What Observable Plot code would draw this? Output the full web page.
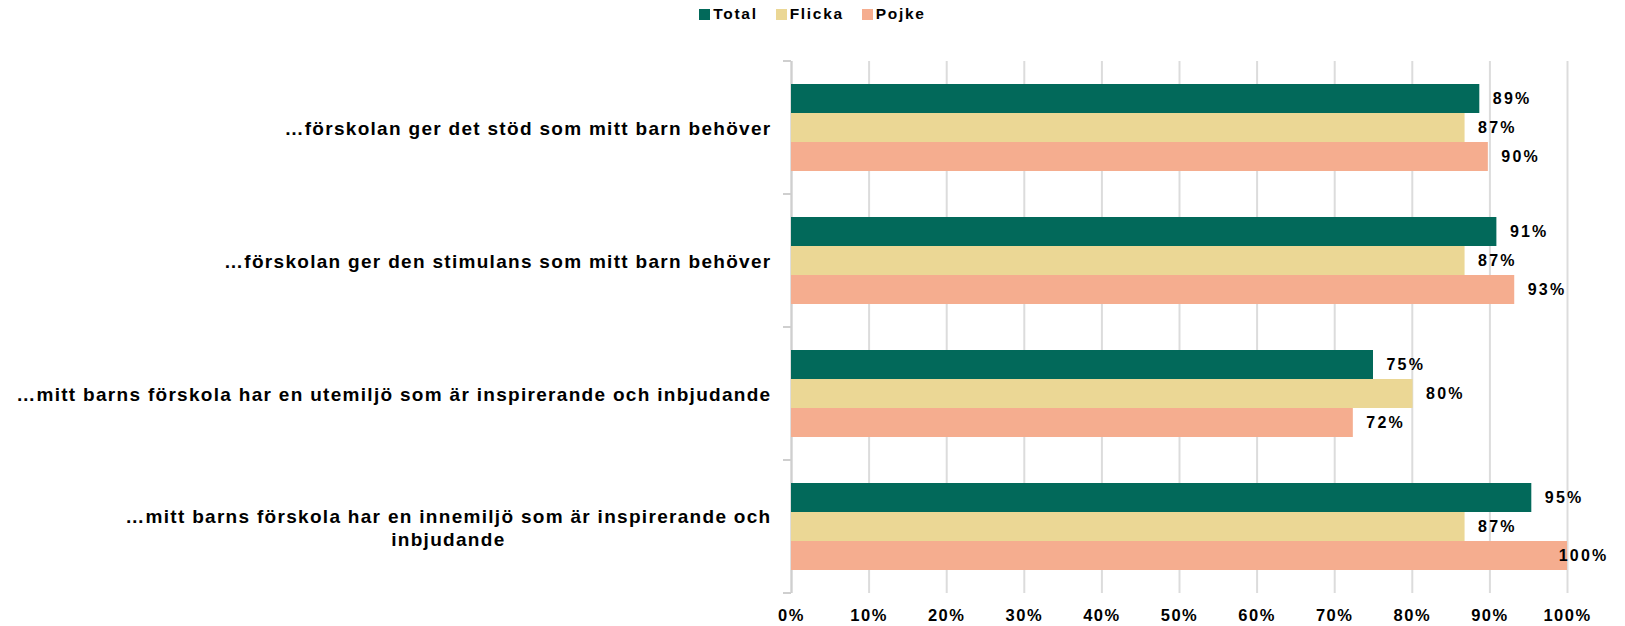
<!DOCTYPE html>
<html><head><meta charset="utf-8">
<script src="https://cdn.jsdelivr.net/npm/d3@7"></script>
<script src="https://cdn.jsdelivr.net/npm/@observablehq/plot@0.6"></script>
<style>
body{margin:0;background:#fff;font-family:"Liberation Sans",Arial,sans-serif;}
#legend{height:28px;display:flex;justify-content:center;align-items:center;gap:18px;font-weight:bold;font-size:15.5px;letter-spacing:1.7px;color:#000;}
#legend .item{display:flex;align-items:center;}
#legend .sw{width:11px;height:11px;margin-right:3px;display:inline-block;}
#chart svg text{letter-spacing:2.2px;}
#chart g[aria-label="x-axis tick label"] text{letter-spacing:1.5px;}
#chart g[aria-label="fy-axis tick label"] text{letter-spacing:1.3px;}
</style></head><body>
<div id="legend"></div><div id="chart"></div>
<script>
const questions = [
  "…förskolan ger det stöd som mitt barn behöver",
  "…förskolan ger den stimulans som mitt barn behöver",
  "…mitt barns förskola har en utemiljö som är inspirerande och inbjudande",
  "…mitt barns förskola har en innemiljö som är inspirerande och inbjudande"
];
const series = ["Total", "Flicka", "Pojke"];
const totalValues = [88.7, 90.9, 75.0, 95.4];
const flickaValues = [86.8, 86.8, 80.1, 86.8];
const pojkeValues = [89.8, 93.2, 72.4, 100];
const colors = ["#02695a", "#ebd795", "#f5ad8f"];
const xTicks = [0, 10, 20, 30, 40, 50, 60, 70, 80, 90, 100];

const valuesBySeries = {Total: totalValues, Flicka: flickaValues, Pojke: pojkeValues};
const data = questions.flatMap((q, i) => series.map(s => ({question: q, series: s, value: valuesBySeries[s][i]})));

// legend
const legend = d3.select("#legend");
series.forEach((s, i) => {
  const it = legend.append("div").attr("class", "item");
  it.append("span").attr("class", "sw").style("background", colors[i]);
  it.append("span").text(s);
});

function wrap(t, maxChars = 71) {
  const words = t.split(" ");
  const lines = [];
  let line = "";
  for (const w of words) {
    if (line && (line + " " + w).length > maxChars) { lines.push(line); line = w; }
    else line = line ? line + " " + w : w;
  }
  lines.push(line);
  return lines.join("\n");
}

const plot = Plot.plot({
  width: 1625, height: 598,
  marginLeft: 791, marginRight: 58, marginTop: 32, marginBottom: 33,
  style: {fontFamily: "'Liberation Sans', Arial, sans-serif", color: "#000"},
  x: {domain: [0, 100], label: null},
  y: {domain: series, paddingInner: 0, paddingOuter: 0.79, axis: null, label: null},
  fy: {domain: questions, padding: 0, label: null},
  color: {domain: series, range: colors},
  marks: [
    Plot.gridX(xTicks, {stroke: "#dcdcdc", strokeOpacity: 1, strokeWidth: 2}),
    Plot.ruleX([0], {stroke: "#cfcfcf", strokeWidth: 2}),
    Plot.barX(data, {fy: "question", y: "series", x: "value", fill: "series"}),
    Plot.text(data, {fy: "question", y: "series", x: d => Math.min(d.value, 97.2), text: d => Math.round(d.value) + "%",
      textAnchor: "start", dx: 13, fontSize: 16, fontWeight: "bold", fill: "#000"}),
    Plot.axisX(xTicks, {anchor: "bottom", tickSize: 0, tickPadding: 16, tickFormat: d => d + "%", fontSize: 16.5, fontWeight: "bold", fill: "#000"}),
    Plot.axisFy({anchor: "left", tickSize: 0, tickPadding: 20, tickFormat: d => wrap(d), fontSize: 19, fontWeight: "bold",
      lineHeight: 1.2, fill: "#000"})
  ]
});
document.getElementById("chart").appendChild(plot);

// center multi-line category labels
d3.select(plot).selectAll('g[aria-label="fy-axis tick label"] text').each(function() {
  const tspans = this.querySelectorAll("tspan");
  if (tspans.length > 1) {
    let w = 0;
    tspans.forEach(t => { w = Math.max(w, t.getComputedTextLength()); });
    this.setAttribute("text-anchor", "middle");
    tspans.forEach(t => t.setAttribute("x", -w / 2));
  }
});

// category boundary ticks on the left axis
const fy = plot.scale("fy");
const bounds = questions.map(q => fy.apply(q)).concat([fy.apply(questions[questions.length - 1]) + fy.bandwidth]);
const x = plot.scale("x");
const x0 = x.apply(0);
d3.select(plot).append("g").attr("stroke", "#cfcfcf").attr("stroke-width", 2)
  .selectAll("line").data(bounds).join("line")
  .attr("x1", x0 - 8).attr("x2", x0).attr("y1", d => d).attr("y2", d => d);
</script>
</body></html>
